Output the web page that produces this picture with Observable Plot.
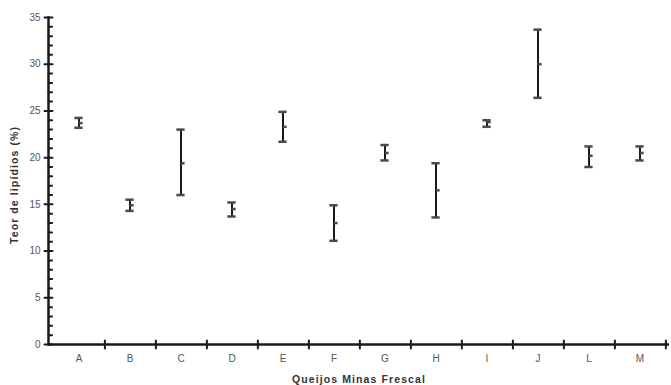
<!DOCTYPE html>
<html><head><meta charset="utf-8">
<script src="https://cdn.jsdelivr.net/npm/d3@7"></script>
<script src="https://cdn.jsdelivr.net/npm/@observablehq/plot@0.6"></script>
<style>
body{margin:0;background:#fff}
svg{font-family:Arial,"Liberation Sans",sans-serif}
</style>
</head><body><div id="chart"></div><script>
const categories = ["A","B","C","D","E","F","G","H","I","J","L","M"];
const means = [23.7, 14.9, 19.4, 14.5, 23.3, 13.0, 20.5, 16.5, 23.8, 30.0, 20.2, 20.5];
const lows  = [23.2, 14.3, 16.0, 13.7, 21.7, 11.1, 19.7, 13.6, 23.3, 26.4, 19.0, 19.7];
const highs = [24.25, 15.5, 23.0, 15.2, 24.9, 14.9, 21.35, 19.4, 24.0, 33.7, 21.2, 21.2];
const yMajor = [0, 5, 10, 15, 20, 25, 30, 35];
const yMinor = [1,2,3,4,6,7,8,9,11,12,13,14,16,17,18,19,21,22,23,24,26,27,28,29,31,32,33,34];
const xTitle = "Queijos Minas Frescal";
const yTitle = "Teor de lipídios (%)";

const data = categories.map((c, i) => ({cat: c, mean: means[i], low: lows[i], high: highs[i]}));

const W = 671, H = 385, mL = 48, mR = 2, mT = 17, mB = 41;
const bw = (W - mL - mR) / categories.length;
const capInset = (bw - 9) / 2;
const line = {draw(ctx, l) { ctx.moveTo(0, 0); ctx.lineTo(0, -l); }};

const chart = Plot.plot({
  width: W, height: H,
  marginLeft: mL, marginRight: mR, marginTop: mT, marginBottom: mB,
  x: {type: "band", domain: categories, padding: 0, axis: null},
  y: {domain: [0, 35], axis: null},
  style: {fontFamily: "Arial, 'Liberation Sans', sans-serif", background: "#fff"},
  marks: [
    // axis lines
    Plot.frame({anchor: "left", stroke: "#1a1a1a", strokeWidth: 2.5}),
    Plot.ruleY([0], {stroke: "#1a1a1a", strokeWidth: 2.5}),
    // y ticks
    Plot.vector(yMajor, {y: d => d, frameAnchor: "left", length: 8, rotate: 90, anchor: "middle", shape: line, stroke: "#1a1a1a", strokeWidth: 2}),
    Plot.vector(yMinor, {y: d => d, frameAnchor: "left", length: 3.5, rotate: 90, anchor: "start", shape: line, stroke: "#1a1a1a", strokeWidth: 2}),
    Plot.text(yMajor, {y: d => d, frameAnchor: "left", text: d => String(d), textAnchor: "end", dx: -8, fill: "#555", fontSize: 10}),
    // x ticks at band boundaries
    Plot.vector(categories, {x: d => d, y: 0, length: 8, rotate: 0, anchor: "middle", shape: line, dx: bw / 2, stroke: "#1a1a1a", strokeWidth: 2}),
    Plot.text(categories, {x: d => d, frameAnchor: "bottom", text: d => d, dy: 17, fill: "#555", fontSize: 10}),
    // titles
    Plot.text([xTitle], {frameAnchor: "bottom", text: d => d, dy: 38, textAnchor: "middle", fill: "#333", fontSize: 10.5, fontWeight: "bold"}),
    Plot.text([yTitle], {frameAnchor: "left", text: d => d, rotate: -90, dx: -34, dy: 4, textAnchor: "middle", fill: "#333", fontSize: 10.5, fontWeight: "bold"}),
    // error bars
    Plot.ruleX(data, {x: "cat", y1: "low", y2: "high", stroke: "#1a1a1a", strokeWidth: 2}),
    Plot.tickY(data, {x: "cat", y: "high", stroke: "#4a4a4a", strokeWidth: 2.5, insetLeft: capInset, insetRight: capInset}),
    Plot.tickY(data, {x: "cat", y: "low", stroke: "#4a4a4a", strokeWidth: 2.5, insetLeft: capInset, insetRight: capInset}),
    Plot.tickY(data, {x: "cat", y: "mean", stroke: "#4a4a4a", strokeWidth: 2.5, insetLeft: bw / 2, insetRight: bw / 2 - 4.5})
  ]
});
d3.select(chart).selectAll("text").filter(function() { return this.textContent === xTitle || this.textContent === yTitle; }).style("letter-spacing", "1.1px");
document.getElementById("chart").appendChild(chart);
</script></body></html>
